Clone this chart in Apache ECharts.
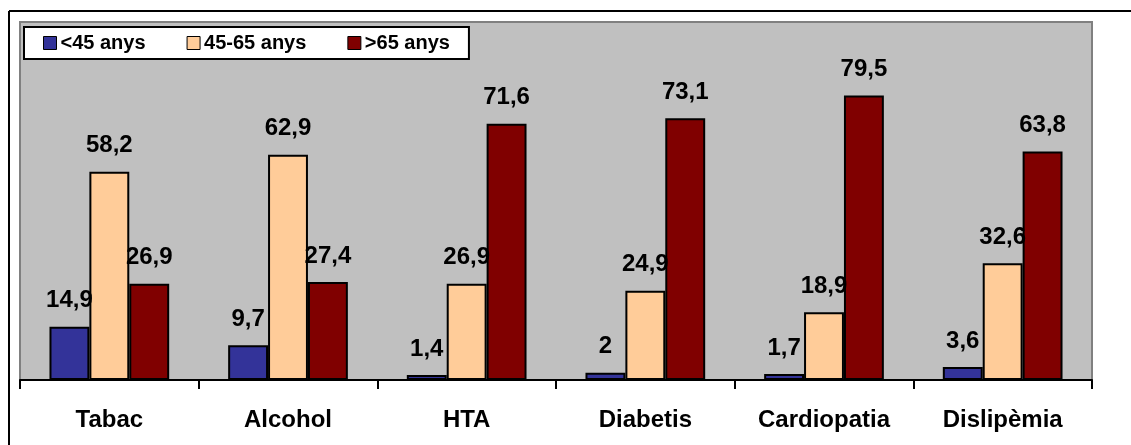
<!DOCTYPE html>
<html>
<head>
<meta charset="utf-8">
<script src="https://cdn.jsdelivr.net/npm/echarts@6/dist/echarts.min.js"></script>
<style>
  html, body { margin: 0; padding: 0; background: #fff; }
  #chart { width: 1131px; height: 445px; }
</style>
</head>
<body>
<div id="chart"></div>
<script>
// Factors de risc per grup d'edat (%)
const categories = ['Tabac', 'Alcohol', 'HTA', 'Diabetis', 'Cardiopatia', 'Dislipèmia'];
const seriesNames = ['<45 anys', '45-65 anys', '>65 anys'];
const under45 = [14.9, 9.7, 1.4, 2, 1.7, 3.6];
const from45to65 = [58.2, 62.9, 26.9, 24.9, 18.9, 32.6];
const over65 = [26.9, 27.4, 71.6, 73.1, 79.5, 63.8];
const colors = ['#333399', '#FFCC99', '#800000'];

const font = '"Liberation Sans", Arial, sans-serif';

function barSeries(name, data, color) {
  return {
    name: name,
    type: 'bar',
    data: data,
    barGap: '0%',
    barCategoryGap: '33%',
    itemStyle: { color: color, borderColor: '#000', borderWidth: 2 },
    label: {
      show: true,
      position: 'top',
      distance: 14,
      fontFamily: font,
      fontWeight: 'bold',
      fontSize: 24,
      color: '#000',
      formatter: p => String(p.value).replace('.', ',')
    }
  };
}

const chart = echarts.init(document.getElementById('chart'), null, { renderer: 'canvas' });
chart.setOption({
  animation: false,
  backgroundColor: '#fff',
  grid: {
    left: 20, right: 39, top: 22, bottom: 65,
    show: true,
    backgroundColor: '#C0C0C0',
    borderColor: '#808080',
    borderWidth: 2
  },
  legend: {
    left: 24, top: 27,
    padding: [6, 19, 6, 19],
    backgroundColor: '#fff',
    borderColor: '#000',
    borderWidth: 2,
    borderRadius: 0,
    itemWidth: 13, itemHeight: 13,
    itemGap: 41,
    icon: 'rect',
    itemStyle: { borderColor: '#000', borderWidth: 1 },
    textStyle: { fontFamily: font, fontWeight: 'bold', fontSize: 20, color: '#000', padding: [0, 0, 0, -1] },
    data: seriesNames
  },
  xAxis: {
    type: 'category',
    data: categories,
    axisLine: { lineStyle: { color: '#000', width: 2 } },
    axisTick: { show: true, length: 9, lineStyle: { color: '#000', width: 2 } },
    axisLabel: { margin: 28, fontFamily: font, fontWeight: 'bold', fontSize: 24, color: '#000' }
  },
  yAxis: {
    type: 'value',
    min: 0, max: 100,
    show: false
  },
  graphic: [
    { type: 'line', shape: { x1: 9, y1: 11, x2: 1131, y2: 11 }, style: { stroke: '#000', lineWidth: 2 } },
    { type: 'line', shape: { x1: 9, y1: 11, x2: 9, y2: 445 }, style: { stroke: '#000', lineWidth: 2 } }
  ],
  series: [
    barSeries(seriesNames[0], under45, colors[0]),
    barSeries(seriesNames[1], from45to65, colors[1]),
    barSeries(seriesNames[2], over65, colors[2])
  ]
});
</script>
</body>
</html>
